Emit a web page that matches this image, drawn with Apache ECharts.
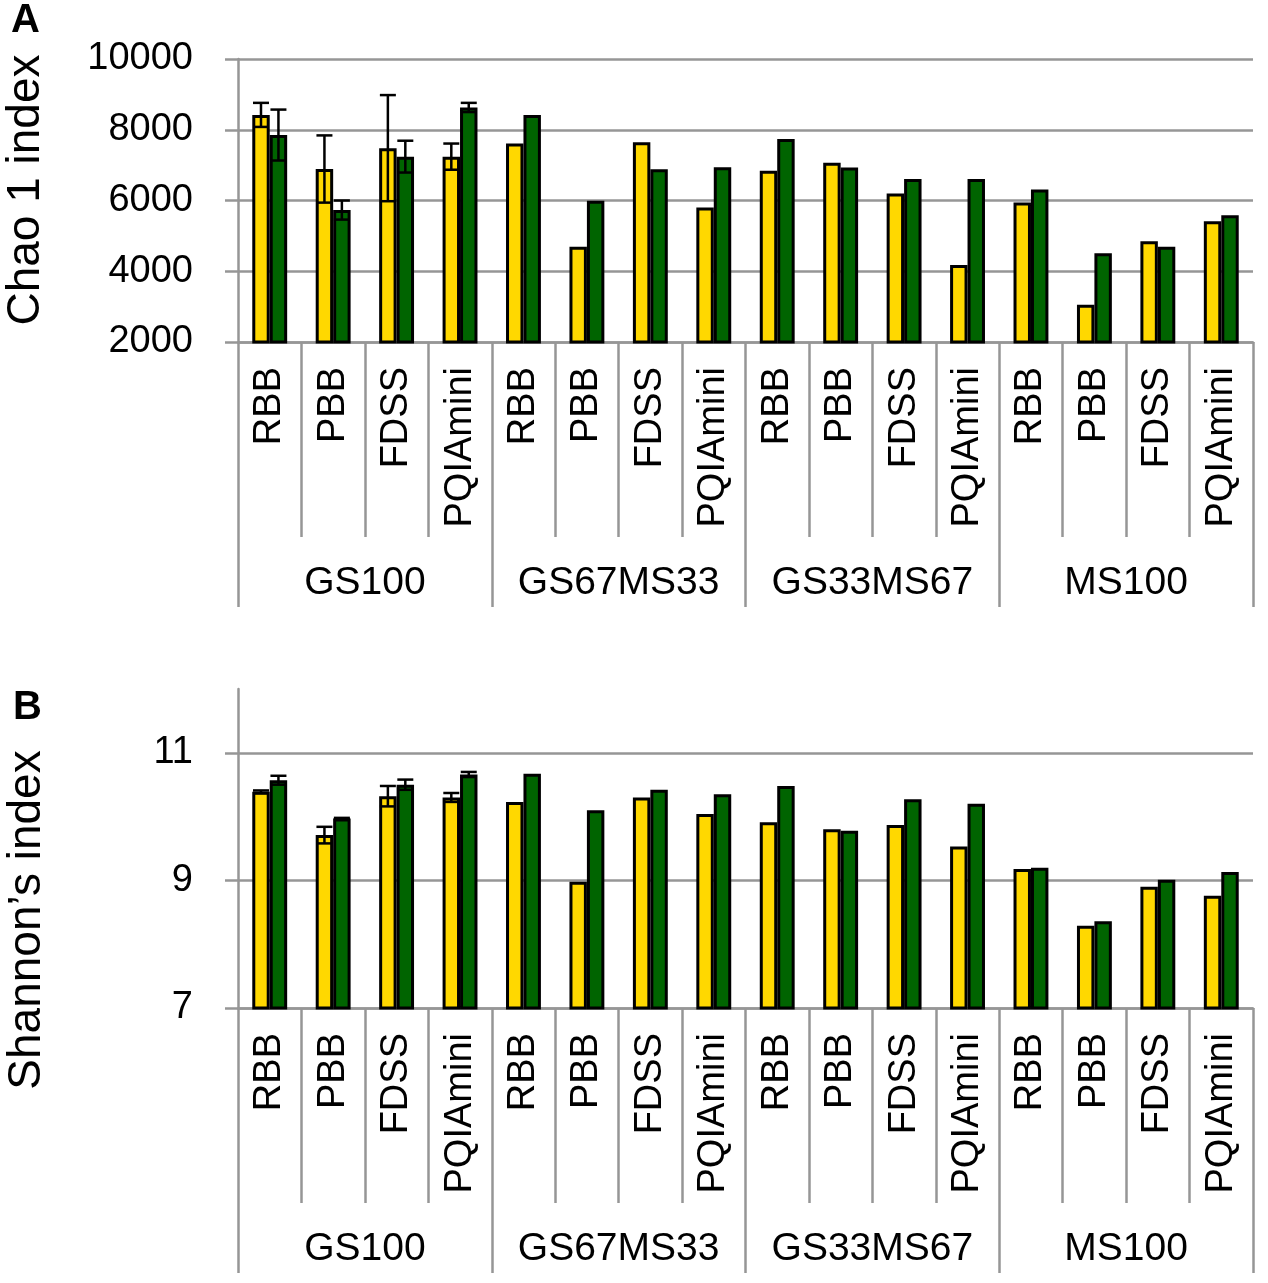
<!DOCTYPE html>
<html>
<head>
<meta charset="utf-8">
<script src="https://cdn.jsdelivr.net/npm/echarts@6/dist/echarts.min.js"></script>
<style>
html,body{margin:0;padding:0;background:#fff;}
#chart{width:1268px;height:1283px;}
</style>
</head>
<body>
<div id="chart"></div>
<script>
// ---- data ----
const methods = ['RBB','PBB','FDSS','PQIAmini','RBB','PBB','FDSS','PQIAmini','RBB','PBB','FDSS','PQIAmini','RBB','PBB','FDSS','PQIAmini'];
const groups = ['GS100','GS67MS33','GS33MS67','MS100'];

const chaoYellow = [8420, 6890, 7480, 7240, 7610, 4690, 7650, 5800, 6840, 7065, 6200, 4180, 5940, 3055, 4850, 5410];
const chaoGreen  = [7850, 5730, 7240, 8630, 8420, 5990, 6880, 6940, 7740, 6935, 6610, 6610, 6310, 4510, 4690, 5580];
const chaoYellowErr = [340, 950, 1500, 370];
const chaoGreenErr  = [720, 270, 450, 130];

const shannonYellow = [10.39, 9.71, 10.32, 10.30, 10.23, 8.98, 10.30, 10.04, 9.91, 9.80, 9.87, 9.53, 9.18, 8.29, 8.90, 8.76];
const shannonGreen  = [10.57, 9.97, 10.50, 10.66, 10.67, 10.10, 10.42, 10.35, 10.48, 9.78, 10.27, 10.20, 9.20, 8.36, 9.01, 9.13];
const shannonYellowErr = [0.02, 0.13, 0.16, 0.07];
const shannonGreenErr  = [0.07, 0.01, 0.08, 0.04];

const chaoTicks = [2000, 4000, 6000, 8000, 10000];
const shannonTicks = [7, 9, 11];

// ---- styling ----
const FONT = "'Liberation Sans', Arial, sans-serif";
const GRAY = '#969696';
const YELLOW = '#FFD800';
const GREEN = '#006400';
const BAR_FRAC = 0.275;
const LW = 2.5;

function errData(vals, errs, side) {
  return errs.map((e, i) => [i, vals[i], e, side]);
}

function errRender(params, api) {
  const cat = api.value(0), val = api.value(1), err = api.value(2), side = api.value(3);
  const c = api.coord([cat, val]);
  const hi = api.coord([cat, val + err]);
  const lo = api.coord([cat, val - err]);
  const bw = api.size([1, 0])[0];
  const x = c[0] + side * bw * BAR_FRAC / 2;
  const cap = 8;
  const st = {stroke: '#000', lineWidth: 2.5};
  return {type: 'group', children: [
    {type: 'line', shape: {x1: x, y1: hi[1], x2: x, y2: lo[1]}, style: st},
    {type: 'line', shape: {x1: x - cap, y1: hi[1], x2: x + cap, y2: hi[1]}, style: st},
    {type: 'line', shape: {x1: x - cap, y1: lo[1], x2: x + cap, y2: lo[1]}, style: st}
  ]};
}

function innerAxis(gridIndex) {
  return {
    type: 'category', gridIndex: gridIndex, position: 'bottom', offset: 0,
    data: methods,
    axisLine: {show: true, lineStyle: {color: GRAY, width: LW}},
    axisTick: {show: true, interval: 0, length: 195, lineStyle: {color: GRAY, width: LW}},
    axisLabel: {interval: 0, rotate: 90, margin: 25, fontSize: 38, fontFamily: FONT, color: '#000'},
    splitLine: {show: false}
  };
}
function groupAxis(gridIndex) {
  return {
    type: 'category', gridIndex: gridIndex, position: 'bottom', offset: 0,
    data: groups,
    axisLine: {show: false},
    axisTick: {show: true, interval: 0, length: 265, lineStyle: {color: GRAY, width: LW}},
    axisLabel: {interval: 0, margin: 222, fontSize: 39, fontFamily: FONT, color: '#000'},
    splitLine: {show: false}
  };
}
function barSeries(xi, yi, data, color) {
  return {
    type: 'bar', xAxisIndex: xi, yAxisIndex: yi, data: data,
    barWidth: (BAR_FRAC * 100) + '%', barGap: '0%',
    itemStyle: {color: color, borderColor: '#000', borderWidth: 3},
    z: 2
  };
}
function errSeries(xi, yi, data) {
  return {type: 'custom', xAxisIndex: xi, yAxisIndex: yi, data: data, renderItem: errRender, z: 5, silent: true};
}

const chart = echarts.init(document.getElementById('chart'), null, {renderer: 'canvas'});
chart.setOption({
  backgroundColor: '#fff',
  animation: false,
  grid: [
    {left: 238, top: 59, width: 1015, height: 283},
    {left: 238, top: 689, width: 1015, height: 319}
  ],
  xAxis: [innerAxis(0), groupAxis(0), innerAxis(1), groupAxis(1)],
  yAxis: [
    {
      type: 'value', gridIndex: 0, min: chaoTicks[0], max: chaoTicks[chaoTicks.length - 1], interval: 2000,
      axisLine: {show: true, lineStyle: {color: GRAY, width: LW}},
      axisTick: {show: true, length: 13, lineStyle: {color: GRAY, width: LW}},
      axisLabel: {margin: 45, fontSize: 38, fontFamily: FONT, color: '#000', formatter: v => String(v)},
      splitLine: {show: true, lineStyle: {color: GRAY, width: LW}}
    },
    {
      type: 'value', gridIndex: 1, min: 7, max: 12, interval: 2,
      axisLine: {show: true, lineStyle: {color: GRAY, width: LW}},
      axisTick: {show: true, length: 13, customValues: shannonTicks, lineStyle: {color: GRAY, width: LW}},
      axisLabel: {margin: 45, fontSize: 38, fontFamily: FONT, color: '#000', customValues: shannonTicks,
        formatter: v => (shannonTicks.indexOf(v) >= 0 ? String(v) : '')},
      splitLine: {show: true, lineStyle: {color: [GRAY, GRAY, GRAY, 'rgba(0,0,0,0)'], width: LW}}
    }
  ],
  series: [
    barSeries(0, 0, chaoYellow, YELLOW),
    barSeries(0, 0, chaoGreen, GREEN),
    errSeries(0, 0, errData(chaoYellow, chaoYellowErr, -1).concat(errData(chaoGreen, chaoGreenErr, 1))),
    barSeries(2, 1, shannonYellow, YELLOW),
    barSeries(2, 1, shannonGreen, GREEN),
    errSeries(2, 1, errData(shannonYellow, shannonYellowErr, -1).concat(errData(shannonGreen, shannonGreenErr, 1)))
  ],
  graphic: [
    {type: 'text', left: 11, top: 1, style: {text: 'A', font: 'bold 40px ' + FONT, fill: '#000'}},
    {type: 'text', left: 13, top: 688, style: {text: 'B', font: 'bold 40px ' + FONT, fill: '#000'}},
    {type: 'text', x: 26, y: 190, rotation: Math.PI / 2,
      style: {text: 'Chao 1 index', font: '46px ' + FONT, fill: '#000', align: 'center', verticalAlign: 'middle'}},
    {type: 'text', x: 27, y: 920, rotation: Math.PI / 2,
      style: {text: 'Shannon\u2019s index', font: '46px ' + FONT, fill: '#000', align: 'center', verticalAlign: 'middle'}}
  ]
});
</script>
</body>
</html>
